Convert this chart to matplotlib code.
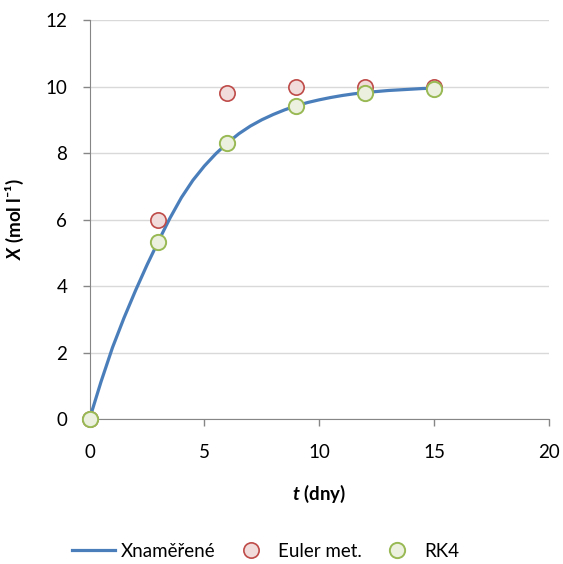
import matplotlib.pyplot as plt

plt.rcParams['font.family'] = ['Lato', 'DejaVu Sans']
plt.rcParams['mathtext.fontset'] = 'custom'
plt.rcParams['mathtext.it'] = 'Lato:italic:bold'
plt.rcParams['mathtext.rm'] = 'Lato:bold'

t_meas = [0, 0.5, 1, 1.5, 2, 2.5, 3, 3.5, 4, 4.5, 5, 5.5, 6, 6.5, 7, 7.5,
          8, 8.5, 9, 9.5, 10, 10.5, 11, 11.5, 12, 12.5, 13, 13.5, 14, 14.5, 15]
x_meas = [0.0, 1.12, 2.15, 3.04, 3.86, 4.63, 5.35, 6.04, 6.66, 7.18, 7.61,
          7.98, 8.3, 8.58, 8.81, 9.0, 9.16, 9.3, 9.42, 9.52, 9.6, 9.67,
          9.73, 9.78, 9.82, 9.85, 9.88, 9.9, 9.92, 9.94, 9.95]

t_pts = [0, 3, 6, 9, 12, 15]
x_euler = [0.0, 6.0, 9.81, 10.0, 10.0, 10.0]
x_rk4 = [0.0, 5.33, 8.29, 9.41, 9.81, 9.93]

fig = plt.figure(figsize=(5.63, 5.64), dpi=100)
ax = fig.add_axes([0.159, 0.257, 0.816, 0.7075])

ax.plot(t_meas, x_meas, color='#4A7EBB', lw=2.3, label='Xnaměřené',
        zorder=3, clip_on=False, solid_joinstyle='round')
ax.plot(t_pts, x_euler, 'o', ms=11, mfc='#F2DCDB', mec='#BE4B48', mew=1.2,
        label='Euler met.', zorder=4, clip_on=False)
ax.plot(t_pts, x_rk4, 'o', ms=11, mfc='#EBF1DE', mec='#98B954', mew=1.4,
        label='RK4', zorder=5, clip_on=False)

ax.set_xlim(0, 20)
ax.set_ylim(0, 12)
ax.set_xticks([0, 5, 10, 15, 20])
ax.set_yticks([0, 2, 4, 6, 8, 10, 12])
ax.yaxis.grid(True, color='#D9D9D9', lw=1.0)
ax.set_axisbelow(True)
for s in ['top', 'right']:
    ax.spines[s].set_visible(False)
for s in ['left', 'bottom']:
    ax.spines[s].set_color('#868686')
ax.tick_params(axis='both', colors='#868686', labelcolor='black',
               labelsize=13.5, length=5, width=1, direction='out')
ax.tick_params(axis='x', pad=13)
ax.tick_params(axis='y', pad=11)

ax.set_xlabel('$t$ (dny)', fontsize=13.5, fontweight='bold', labelpad=16)
ax.set_ylabel('$X$ (mol l⁻¹)', fontsize=13.5, fontweight='bold', labelpad=14)

fig.legend(*ax.get_legend_handles_labels(), loc='center',
           bbox_to_anchor=(0.472, 0.023), ncol=3, frameon=False,
           fontsize=13.5, handlelength=2.3, columnspacing=0.75,
           handletextpad=0.3)

fig.savefig('out.png', dpi=100)
